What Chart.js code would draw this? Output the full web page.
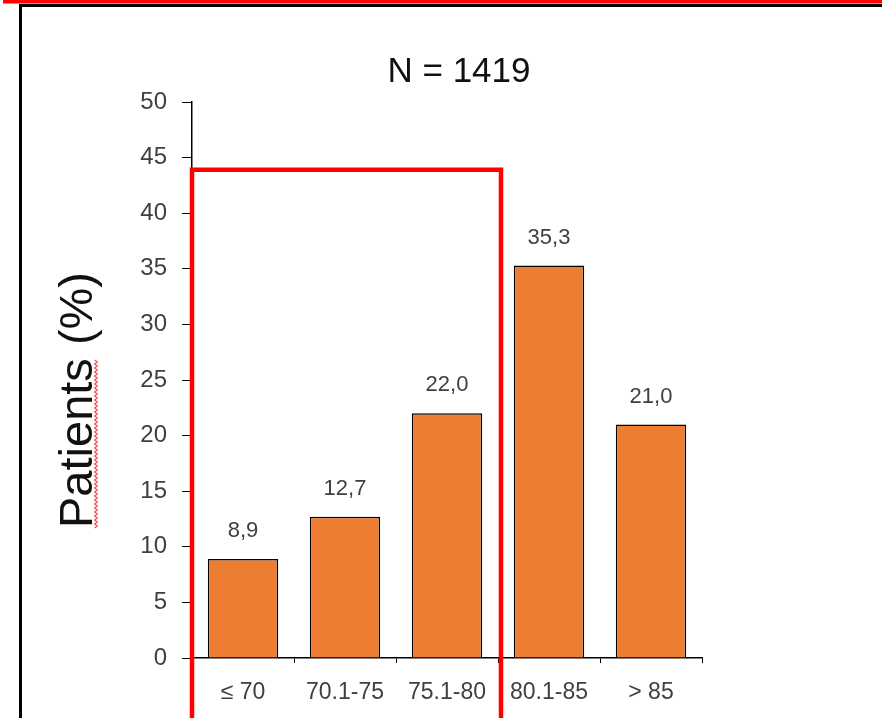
<!DOCTYPE html>
<html>
<head>
<meta charset="utf-8">
<script src="https://cdn.jsdelivr.net/npm/chart.js@4.4.1/dist/chart.umd.min.js"></script>
<style>
  html, body { margin: 0; padding: 0; background: #fff; overflow: hidden; }
  canvas { display: block; }
</style>
</head>
<body>
<canvas id="c" width="882" height="718"></canvas>
<script>
// Age groups and share of patients per group
const categories = ['≤ 70', '70.1-75', '75.1-80', '80.1-85', '> 85'];
const patientShare = [8.9, 12.7, 22.0, 35.3, 21.0];
const yMin = 0, yMax = 50, yStep = 5;
const chartTitle = 'N = 1419';
const yTitle = 'Patients (%)';
// Highlight box around the first groups, up to this percentage level
const highlightGroups = 3;
const highlightLevel = 43.9;

const FONT = '"Liberation Sans", Arial, sans-serif';
const ORANGE = '#ED7D31';
const GREY = '#404040';

const decor = {
  id: 'decor',
  beforeDraw(chart) {
    const ctx = chart.ctx;
    ctx.save();
    ctx.fillStyle = '#fff';
    ctx.fillRect(0, 0, chart.width, chart.height);
    ctx.restore();
  },
  afterDatasetsDraw(chart) {
    const ctx = chart.ctx;
    const meta = chart.getDatasetMeta(0);
    ctx.save();
    ctx.font = '22px ' + FONT;
    ctx.fillStyle = GREY;
    ctx.textAlign = 'center';
    ctx.textBaseline = 'middle';
    meta.data.forEach((bar, i) => {
      const v = chart.data.datasets[0].data[i];
      ctx.fillText(v.toFixed(1).replace('.', ','), bar.x, bar.y - 28);
    });
    ctx.restore();
  },
  afterDraw(chart) {
    const ctx = chart.ctx;
    const area = chart.chartArea;
    const x = chart.scales.x, y = chart.scales.y;
    ctx.save();

    // Title
    ctx.font = '35px ' + FONT;
    ctx.fillStyle = '#111';
    ctx.textAlign = 'center';
    ctx.textBaseline = 'middle';
    ctx.fillText(chartTitle, 459, 72);

    // Vertical axis title
    ctx.save();
    ctx.translate(92, 528);
    ctx.rotate(-Math.PI / 2);
    ctx.font = '47px ' + FONT;
    ctx.fillStyle = '#111';
    ctx.textAlign = 'left';
    ctx.textBaseline = 'alphabetic';
    ctx.fillText(yTitle, 0, 0);
    const wordLen = ctx.measureText('Patients').width;
    ctx.restore();

    // Wavy underline under the first word
    ctx.strokeStyle = 'rgba(240,70,70,0.9)';
    ctx.lineWidth = 1.3;
    ctx.beginPath();
    let k = 0;
    for (let yy = 528; yy >= 528 - wordLen; yy -= 2, k++) {
      const xx = 96 + (k % 2 ? 1.3 : -1.3);
      if (k === 0) ctx.moveTo(xx, yy); else ctx.lineTo(xx, yy);
    }
    ctx.stroke();

    // Page frame
    ctx.fillStyle = '#ff0000';
    ctx.fillRect(3, 0, chart.width - 3, 3.5);
    ctx.fillStyle = '#000';
    ctx.fillRect(19, 4, chart.width - 19, 3);
    ctx.fillRect(19, 4, 3, chart.height - 4);

    // Highlight box around the first groups
    const left = area.left;
    const right = (x.getPixelForValue(highlightGroups - 1) + x.getPixelForValue(highlightGroups)) / 2 + 3;
    const top = y.getPixelForValue(highlightLevel);
    ctx.strokeStyle = '#ff0000';
    ctx.lineWidth = 4.5;
    ctx.beginPath();
    ctx.moveTo(left, chart.height + 10);
    ctx.lineTo(left, top);
    ctx.lineTo(right, top);
    ctx.lineTo(right, chart.height + 10);
    ctx.stroke();

    ctx.restore();
  }
};

new Chart(document.getElementById('c'), {
  type: 'bar',
  data: {
    labels: categories,
    datasets: [{
      data: patientShare,
      backgroundColor: ORANGE,
      borderColor: '#000',
      borderWidth: 1.5,
      barPercentage: 0.69,
      categoryPercentage: 1.0
    }]
  },
  options: {
    responsive: false,
    devicePixelRatio: 1,
    animation: false,
    layout: { padding: { top: 102, right: 180, left: 0, bottom: 0 } },
    plugins: {
      legend: { display: false },
      title: { display: false },
      tooltip: { enabled: false }
    },
    scales: {
      x: {
        grid: { display: true, drawOnChartArea: false, drawTicks: true, tickLength: 5, color: '#000', offset: true },
        border: { display: true, color: '#000', width: 1.5 },
        ticks: { color: GREY, font: { family: FONT, size: 23 }, padding: 16, maxRotation: 0, autoSkip: false },
        afterFit(scale) { scale.height = 60; }
      },
      y: {
        min: yMin,
        max: yMax,
        grid: { display: true, drawOnChartArea: false, drawTicks: true, tickLength: 10, color: '#000' },
        border: { display: true, color: '#000', width: 1.5 },
        ticks: { stepSize: yStep, color: GREY, font: { family: FONT, size: 24 }, padding: 15 },
        afterFit(scale) { scale.width = 192; }
      }
    }
  },
  plugins: [decor]
});
</script>
</body>
</html>
